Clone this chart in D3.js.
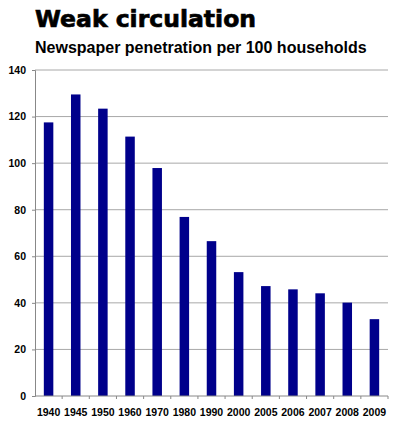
<!DOCTYPE html>
<html>
<head>
<meta charset="utf-8">
<script src="https://cdn.jsdelivr.net/npm/d3@7"></script>
<style>
  body { margin: 0; background: #fff; }
  text { font-family: "Liberation Sans", Arial, sans-serif; }
</style>
</head>
<body>
<div id="chart"></div>
<script>
const years = ["1940", "1945", "1950", "1960", "1970", "1980", "1990", "2000", "2005", "2006", "2007", "2008", "2009"];
const penetration = [117.5, 129.5, 123.4, 111.4, 97.9, 76.9, 66.5, 53.2, 47.2, 45.8, 44.1, 40.1, 33];
const yTicks = [0, 20, 40, 60, 80, 100, 120, 140];

const width = 400, height = 424;
const margin = {top: 70, right: 12, bottom: 28, left: 35};

const svg = d3.select("#chart").append("svg")
    .attr("width", width)
    .attr("height", height);

// heavy title, close to Arial Black
svg.append("text")
    .attr("x", 35).attr("y", 27)
    .attr("font-size", 23.5).attr("font-weight", "bold")
    .style("font-family", "'DejaVu Sans', sans-serif")
    .attr("stroke", "#000").attr("stroke-width", 0.7)
    .text("Weak circulation");

svg.append("text")
    .attr("x", 35).attr("y", 53)
    .attr("font-size", 16).attr("font-weight", "bold")
    .text("Newspaper penetration per 100 households");

const x = d3.scaleBand()
    .domain(years)
    .range([margin.left, width - margin.right])
    .paddingInner(0.65)
    .paddingOuter(0.325);

const y = d3.scaleLinear()
    .domain([0, 140])
    .range([height - margin.bottom, margin.top]);

// gridlines
svg.append("g")
    .selectAll("line")
    .data(yTicks.filter(d => d > 0))
    .join("line")
    .attr("x1", margin.left).attr("x2", width - margin.right)
    .attr("y1", d => y(d)).attr("y2", d => y(d))
    .attr("stroke", "#a8a8a8").attr("stroke-width", 1);

// bars
svg.append("g")
    .selectAll("rect")
    .data(years)
    .join("rect")
    .attr("x", d => x(d))
    .attr("width", x.bandwidth())
    .attr("y", (d, i) => y(penetration[i]))
    .attr("height", (d, i) => y(0) - y(penetration[i]))
    .attr("fill", "#00008b");

// y axis
const yAxis = svg.append("g")
    .attr("transform", `translate(${margin.left},0)`)
    .call(d3.axisLeft(y).tickValues(yTicks).tickSize(3).tickPadding(6));
yAxis.select(".domain").attr("stroke", "#888");
yAxis.selectAll(".tick line").attr("stroke", "#888");
yAxis.selectAll("text").attr("font-size", 10.5).attr("font-weight", "bold").attr("fill", "#000")
    .style("font-family", "'Liberation Sans', Arial, sans-serif");

// x axis with ticks at category boundaries
const xAxisG = svg.append("g")
    .attr("transform", `translate(0,${y(0)})`);
xAxisG.append("line")
    .attr("x1", margin.left).attr("x2", width - margin.right)
    .attr("stroke", "#888");
const step = x.step();
xAxisG.selectAll(".sep")
    .data(years)
    .join("line")
    .attr("class", "sep")
    .attr("x1", d => x(d) + x.bandwidth() / 2 + step / 2)
    .attr("x2", d => x(d) + x.bandwidth() / 2 + step / 2)
    .attr("y1", 0).attr("y2", 3)
    .attr("stroke", "#888");
xAxisG.selectAll(".lbl")
    .data(years)
    .join("text")
    .attr("class", "lbl")
    .attr("x", d => x(d) + x.bandwidth() / 2)
    .attr("y", 20)
    .attr("text-anchor", "middle")
    .attr("font-size", 10.5).attr("font-weight", "bold")
    .text(d => d);
</script>
</body>
</html>
